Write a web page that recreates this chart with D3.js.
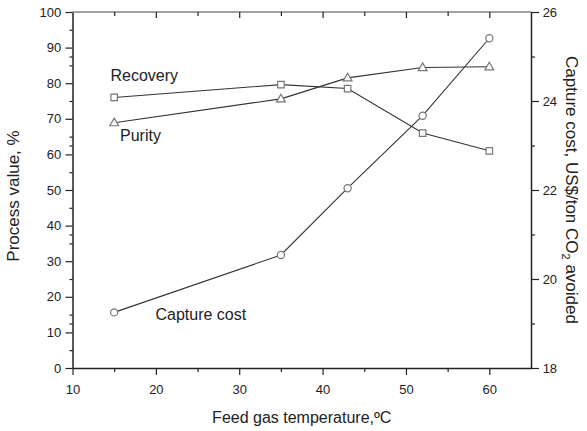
<!DOCTYPE html>
<html>
<head>
<meta charset="utf-8">
<script src="https://cdn.jsdelivr.net/npm/d3@7/dist/d3.min.js"></script>
<style>
  html, body { margin: 0; padding: 0; background: #fff; }
  svg { display: block; font-family: "Liberation Sans", Arial, Helvetica, sans-serif; }
</style>
</head>
<body>
<svg id="chart" width="587" height="431"></svg>
<script>
// Feed gas temperature (°C) at each simulated case
const temperature = [15, 35, 43, 52, 60];
// Process values, %
const recovery = [76.0, 79.6, 78.5, 66.0, 61.0];
const purity = [68.9, 75.6, 81.5, 84.4, 84.6];
// Capture cost, US$/ton CO2 avoided
const captureCost = [19.25, 20.54, 22.04, 23.67, 25.41];

// Axis ticks
const xMajorTicks = [10, 20, 30, 40, 50, 60];
const xMinorTicks = [15, 25, 35, 45, 55];
const leftMajorTicks = [0, 10, 20, 30, 40, 50, 60, 70, 80, 90, 100];
const leftMinorTicks = [5, 12.5, 15, 25, 35, 37.5, 45, 55, 62.5, 65, 75, 85, 87.5, 95];
const rightMajorTicks = [18, 20, 22, 24, 26];
const rightMinorTicks = [19, 21, 23, 25];

const svg = d3.select("#chart");
const plotLeft = 72.5, plotRight = 531, plotTop = 12, plotBottom = 368;

const x = d3.scaleLinear().domain([10, 65]).range([plotLeft, plotRight]);
const yL = d3.scaleLinear().domain([0, 100]).range([plotBottom, plotTop]);
const yR = d3.scaleLinear().domain([18, 26]).range([plotBottom, plotTop]);

const ink = "#222";

// frame: top border
svg.append("line").attr("x1", plotLeft).attr("x2", plotRight).attr("y1", plotTop).attr("y2", plotTop)
  .attr("stroke", "#444").attr("stroke-width", 1.2);

// bottom axis
const gB = svg.append("g").attr("transform", `translate(0,${plotBottom})`);
gB.call(d3.axisBottom(x).tickValues(xMajorTicks).tickSize(7).tickSizeOuter(0).tickFormat(d3.format("d")));
gB.append("g").call(d3.axisBottom(x).tickValues(xMinorTicks).tickSize(4).tickSizeOuter(0).tickFormat(""))
  .select(".domain").remove();

// top axis (inward ticks, no labels)
const gT = svg.append("g").attr("transform", `translate(0,${plotTop})`);
gT.call(d3.axisBottom(x).tickValues([20, 30, 40, 50, 60]).tickSize(6).tickFormat(""))
  .select(".domain").remove();
gT.append("g").call(d3.axisBottom(x).tickValues(xMinorTicks).tickSize(4).tickFormat(""))
  .select(".domain").remove();

// left axis
const gL = svg.append("g").attr("transform", `translate(${plotLeft},0)`);
gL.call(d3.axisLeft(yL).tickValues(leftMajorTicks).tickSize(7).tickSizeOuter(0).tickFormat(d3.format("d")));
gL.append("g").call(d3.axisLeft(yL).tickValues(leftMinorTicks).tickSize(3).tickSizeOuter(0).tickFormat(""))
  .select(".domain").remove();

// right axis
const gR = svg.append("g").attr("transform", `translate(${plotRight},0)`);
gR.call(d3.axisRight(yR).tickValues(rightMajorTicks).tickSize(8).tickSizeOuter(0).tickFormat(d3.format("d")));
gR.append("g").call(d3.axisRight(yR).tickValues(rightMinorTicks).tickSize(4).tickSizeOuter(0).tickFormat(""))
  .select(".domain").remove();

svg.selectAll(".domain").attr("stroke", ink).attr("stroke-width", 1.5);
svg.selectAll(".tick line").attr("stroke", ink).attr("stroke-width", 1.2);
svg.selectAll(".tick text").attr("fill", ink).attr("font-size", 13)
  .attr("font-family", "'Liberation Sans', Arial, sans-serif");
gB.selectAll(".tick text").attr("dy", "1.2em");
gL.selectAll(".tick text").attr("dx", "-0.1em");
gR.selectAll(".tick text").attr("dx", "0.05em");

// series lines
const lineL = d3.line().x((d, i) => x(temperature[i])).y(d => yL(d));
const lineR = d3.line().x((d, i) => x(temperature[i])).y(d => yR(d));
const lineStyle = sel => sel.attr("fill", "none").attr("stroke", "#333").attr("stroke-width", 1.1);
svg.append("path").datum(recovery).attr("d", lineL).call(lineStyle);
svg.append("path").datum(purity).attr("d", lineL).call(lineStyle);
svg.append("path").datum(captureCost).attr("d", lineR).call(lineStyle);

// markers: open grey symbols
const mk = sel => sel.attr("fill", "#fff").attr("stroke", "#777").attr("stroke-width", 1.2);
svg.append("g").selectAll("path").data(recovery).join("path")
  .attr("transform", (d, i) => `translate(${x(temperature[i])},${yL(d)})`)
  .attr("d", d3.symbol(d3.symbolSquare, 42)).call(mk);
svg.append("g").selectAll("path").data(purity).join("path")
  .attr("transform", (d, i) => `translate(${x(temperature[i])},${yL(d) + 0.5})`)
  .attr("d", d3.symbol(d3.symbolTriangle, 34)).call(mk);
svg.append("g").selectAll("circle").data(captureCost).join("circle")
  .attr("cx", (d, i) => x(temperature[i])).attr("cy", d => yR(d)).attr("r", 3.6).call(mk);

// series labels
const lab = (t, px, py) => svg.append("text").attr("x", px).attr("y", py).text(t)
  .attr("font-size", 16).attr("fill", ink);
lab("Recovery", 110.5, 81);
lab("Purity", 120, 141);
lab("Capture cost", 155.5, 320);

// axis titles
svg.append("text").attr("x", (plotLeft + plotRight) / 2).attr("y", 423).attr("text-anchor", "middle")
  .attr("font-size", 16).attr("fill", ink).text("Feed gas temperature,ºC");
svg.append("text").attr("transform", `translate(19,${(plotTop + plotBottom) / 2 + 6}) rotate(-90)`)
  .attr("text-anchor", "middle").attr("font-size", 17).attr("fill", ink).text("Process value, %");
const rt = svg.append("text").attr("transform", `translate(566,${(plotTop + plotBottom) / 2}) rotate(90)`)
  .attr("text-anchor", "middle").attr("font-size", 17).attr("fill", ink);
rt.append("tspan").text("Capture cost, US$/ton CO");
rt.append("tspan").attr("font-size", 11).attr("dy", 4).text("2");
rt.append("tspan").attr("dy", -4).text(" avoided");
</script>
</body>
</html>
